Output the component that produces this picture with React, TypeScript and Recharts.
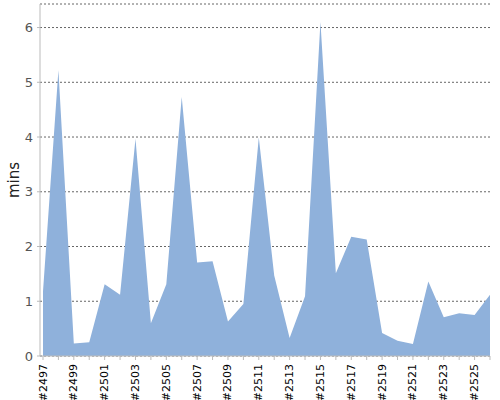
import { AreaChart, Area, XAxis, YAxis, CartesianGrid } from "recharts";

const builds = [
  "#2497", "#2498", "#2499", "#2500", "#2501", "#2502", "#2503", "#2504", "#2505", "#2506",
  "#2507", "#2508", "#2509", "#2510", "#2511", "#2512", "#2513", "#2514", "#2515", "#2516",
  "#2517", "#2518", "#2519", "#2520", "#2521", "#2522", "#2523", "#2524", "#2525", "#2526",
];

const minutes = [
  1.18, 5.22, 0.23, 0.25, 1.31, 1.12, 3.97, 0.6, 1.31, 4.73,
  1.71, 1.73, 0.63, 0.95, 3.99, 1.47, 0.33, 1.09, 6.1, 1.51,
  2.18, 2.13, 0.42, 0.28, 0.22, 1.36, 0.71, 0.78, 0.75, 1.12,
];

const yTicks = [0, 1, 2, 3, 4, 5, 6];

const data = builds.map((name, i) => ({ name, value: minutes[i] }));

function BuildTick(props: any) {
  const { x, y, payload, index } = props;
  if (index % 2 !== 0) return null;
  return (
    <text
      x={x}
      y={y}
      transform={`rotate(-90, ${x}, ${y})`}
      textAnchor="end"
      dominantBaseline="central"
      fontSize={11}
      fill="#000"
      fontFamily="DejaVu Sans"
    >
      {payload.value}
    </text>
  );
}

function MinsLabel() {
  return (
    <text
      x={19}
      y={180}
      transform="rotate(-90, 19, 180)"
      textAnchor="middle"
      fontSize={15}
      fill="#222"
      fontFamily="DejaVu Sans"
    >
      mins
    </text>
  );
}

export default function App() {
  return (
    <div style={{ width: 500, height: 400, fontFamily: "DejaVu Sans" }}>
      <style>{`body{margin:0}`}</style>
      <AreaChart width={500} height={400} data={data} margin={{ top: 4, right: 10, left: 0, bottom: 0 }}>
        <CartesianGrid vertical={false} stroke="#666" strokeDasharray="2 2" />
        <XAxis
          dataKey="name"
          interval={0}
          height={44}
          tick={<BuildTick />}
          tickSize={4}
          tickMargin={4}
          stroke="#bbb"
          padding={{ left: 3, right: 0 }}
        />
        <YAxis
          domain={[0, 6.43]}
          ticks={yTicks}
          width={40}
          tickSize={3}
          tickMargin={4}
          stroke="#bbb"
          tick={{ fontSize: 13, fill: "#555" }}
          label={{ content: <MinsLabel /> }}
        />
        <Area
          type="linear"
          dataKey="value"
          stroke="none"
          fill="#8fb1db"
          fillOpacity={1}
          isAnimationActive={false}
        />
      </AreaChart>
    </div>
  );
}
